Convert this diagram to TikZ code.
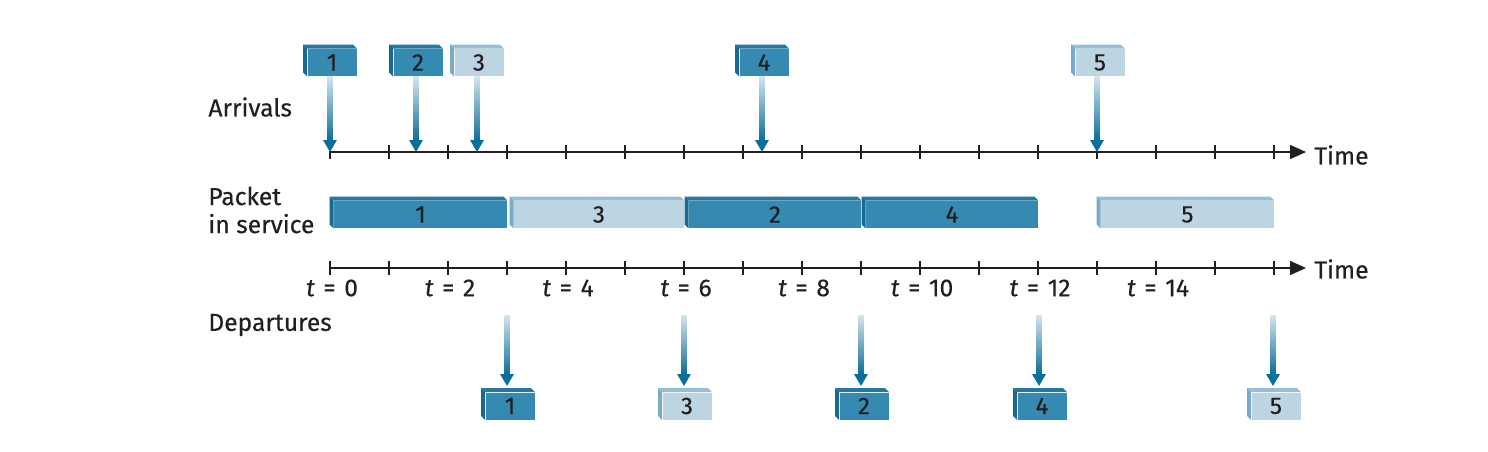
\documentclass[tikz,border=0pt]{standalone}
\usepackage{fontspec}
\setmainfont{Fira Sans}[FakeBold=0.4]
\usetikzlibrary{calc,arrows.meta}
\definecolor{dkface}{HTML}{348AB1}
\definecolor{dktop}{HTML}{2479A3}
\definecolor{dkleft}{HTML}{1A6890}
\definecolor{ltface}{HTML}{BDD5E3}
\definecolor{lttop}{HTML}{96BFD6}
\definecolor{ltleft}{HTML}{78ABC8}
\definecolor{arrdark}{HTML}{0B6F9B}
\definecolor{arrlight}{HTML}{D4E5EE}
\definecolor{ink}{HTML}{231F20}
\tikzset{
  pkt/.style={minimum width=24.5pt, minimum height=13.5pt, inner sep=0pt,
    font=\fontsize{12}{12}\selectfont, text=ink},
  bar/.style={minimum height=13.5pt, inner sep=0pt,
    font=\fontsize{12}{12}\selectfont, text=ink},
  lbl/.style={font=\fontsize{12.3}{14}\selectfont, text=ink, anchor=west, align=left, inner sep=0pt},
  tlbl/.style={font=\fontsize{12.3}{12}\selectfont, text=ink, inner sep=0pt},
  axisline/.style={line width=0.75pt, draw=ink, -{Triangle[length=8pt,width=7pt]}},
  tick/.style={line width=0.6pt, draw=ink},
}
% depth faces of a box node: #1 node, #2 top colour, #3 left colour
\newcommand\boxdepth[3]{%
  \fill[#2] (#1.north west) -- ($(#1.north west)+(-4,-4)$) -- ($(#1.north east)+(-4,-4)$) -- (#1.north east) -- cycle;
  \fill[#3] (#1.north west) -- ($(#1.north west)+(-4,-4)$) -- ($(#1.south west)+(-4,-4)$) -- (#1.south west) -- cycle;}
% gradient arrow from #1 to tip #2
\newcommand\garrow[2]{%
  \shade[top color=arrlight, bottom color=arrdark] ($(#1)+(-2.5,0)$) rectangle ($(#2)+(2.5,-12)$);
  \fill[arrdark] ($(#2)+(-7,-12)$) -- (#2) -- ($(#2)+(7,-12)$) -- cycle;}
\begin{document}
\begin{tikzpicture}[x=0.5pt,y=-0.5pt]
\useasboundingbox (0,0) rectangle (1488,451);
% axes
\foreach \i in {0,...,16} {
  \coordinate (ta\i) at ({330+59*\i},152);
  \coordinate (tb\i) at ({330+59*\i},268);
  \draw[tick] ($(ta\i)+(0,-7)$) -- ($(ta\i)+(0,7)$);
  \draw[tick] ($(tb\i)+(0,-7)$) -- ($(tb\i)+(0,7)$);
}
\draw[axisline] (ta0) -- (1306,152);
\draw[axisline] (tb0) -- (1306,268);
\node[lbl] (time1) at (1314,155) {Time};
\node[lbl] (time2) at (1314,269) {Time};
% time labels
\foreach \i/\v in {0/0,2/2,4/4,6/6,8/8,10/10,12/12,14/14} {
  \node[tlbl] (tl\i) at ($(tb\i)+(2,20)$) {\textit{t}\hspace{0.35em}=\hspace{0.35em}\v};
}
% row labels
\node[lbl] (arr) at (208,107) {Arrivals};
\node[lbl] (pis) at (208,210) {Packet\\in service};
\node[lbl] (dep) at (208,325) {Departures};
% arrivals
\coordinate (a1) at (330,152);
\coordinate (a2) at (416,152);
\coordinate (a3) at (477,152);
\coordinate (a4) at (762,152);
\coordinate (a5) at (1097,152);
\foreach \n/\x/\k in {1/332/dk,2/418/dk,3/479/lt,4/764/dk,5/1100/lt} {
  \node[pkt, fill=\k face] (p\n) at (\x,62.5) {\n};
  \boxdepth{p\n}{\k top}{\k left}
  \garrow{p\n.south -| a\n}{a\n}
}
% service bars
\node[bar, fill=dkface, minimum width=86.5pt] (s1) at (420.5,214.5) {1};
\boxdepth{s1}{dktop}{dkleft}
\node[bar, fill=ltface, minimum width=85pt] (s3) at (599,214.5) {3};
\boxdepth{s3}{lttop}{ltleft}
\node[bar, fill=dkface, minimum width=86pt] (s2) at (775,214.5) {2};
\boxdepth{s2}{dktop}{dkleft}
\node[bar, fill=dkface, minimum width=86pt] (s4) at (952,214.5) {4};
\boxdepth{s4}{dktop}{dkleft}
\node[bar, fill=ltface, minimum width=86.5pt] (s5) at (1187.5,214.5) {5};
\boxdepth{s5}{lttop}{ltleft}
% departures
\foreach \n/\x/\k in {1/507/dk,3/684/lt,2/861/dk,4/1039/dk,5/1273/lt} {
  \coordinate (ds\n) at (\x,315);
  \coordinate (dt\n) at (\x,386);
  \node[pkt, fill=\k face] (d\n) at ({\x+3},406) {\n};
  \boxdepth{d\n}{\k top}{\k left}
  \garrow{ds\n}{dt\n}
}
\end{tikzpicture}
\end{document}
